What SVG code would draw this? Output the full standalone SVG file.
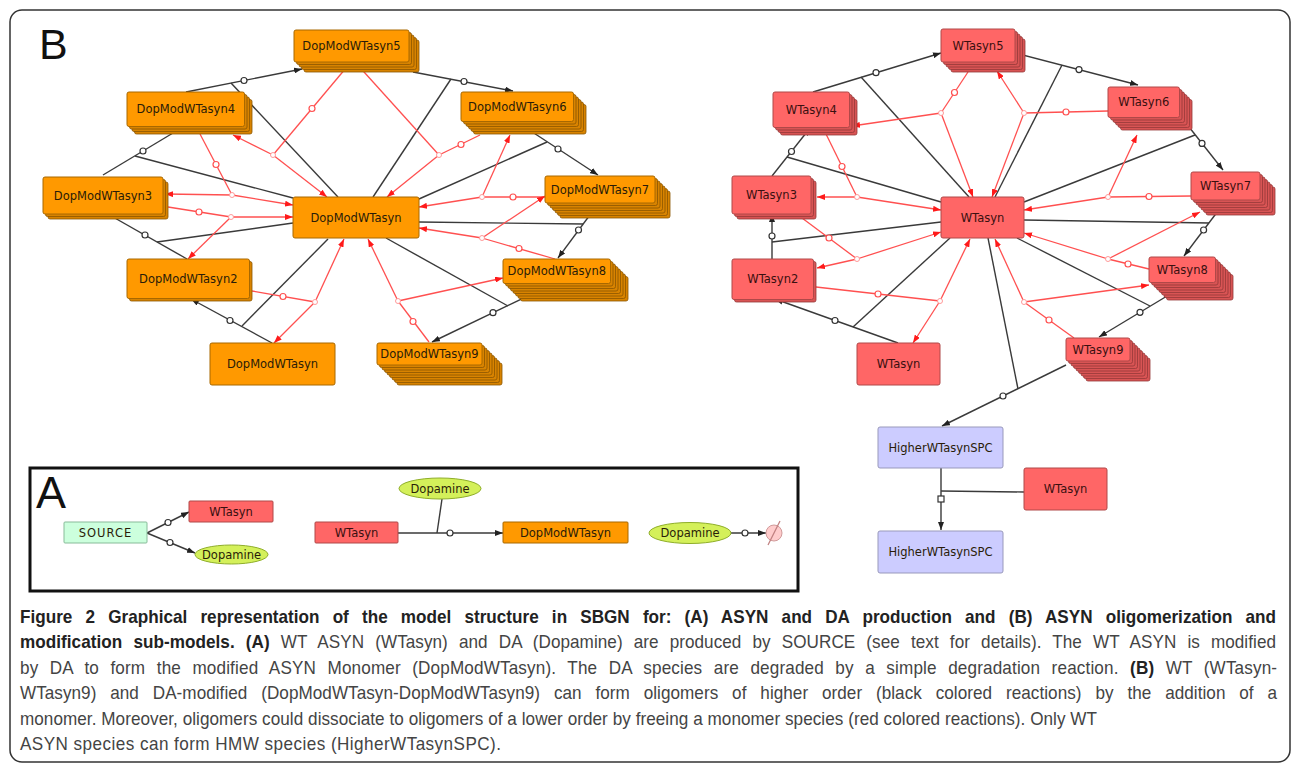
<svg xmlns="http://www.w3.org/2000/svg" width="1295" height="769" viewBox="0 0 1295 769">
<defs>
<marker id="ab" markerWidth="8" markerHeight="6" refX="8" refY="3" orient="auto" markerUnits="userSpaceOnUse"><path d="M0,0 L8,3 L0,6 z" fill="#222"/></marker>
<marker id="ar" markerWidth="8" markerHeight="6" refX="8" refY="3" orient="auto" markerUnits="userSpaceOnUse"><path d="M0,0 L8,3 L0,6 z" fill="#ff1a1a"/></marker>
</defs>
<style>
.frame{fill:none;stroke:#333;stroke-width:1.5}
.o{fill:#ff9900;stroke:#a86800;stroke-width:1}
.os{fill:#d88300;stroke:#8c5600;stroke-width:0.8}
.r{fill:#ff6666;stroke:#b04848;stroke-width:1}
.rs{fill:#d85454;stroke:#963838;stroke-width:0.8}
.h{fill:#ccccff;stroke:#9999bb;stroke-width:1}
.src{fill:#ccffdd;stroke:#88bb99;stroke-width:1}
.dop{fill:#d4f05a;stroke:#8fae2a;stroke-width:1}
.t{font-family:"DejaVu Sans",Verdana,sans-serif;font-size:11.5px;text-anchor:middle;fill:#2a1c08}
.tr{font-family:"DejaVu Sans",Verdana,sans-serif;font-size:11.5px;text-anchor:middle;fill:#3a1010}
.bl{stroke:#3a3a3a;stroke-width:1.4;fill:none}
.ba{stroke:#3a3a3a;stroke-width:1.4;fill:none;marker-end:url(#ab)}
.rl{stroke:#ff5050;stroke-width:1.3;fill:none}
.ra{stroke:#ff5050;stroke-width:1.3;fill:none;marker-end:url(#ar)}
.pb{fill:#fff;stroke:#333;stroke-width:1.2}
.pr{fill:#fff;stroke:#ff5050;stroke-width:1.2}
.jr{fill:#fff;stroke:#ff9a9a;stroke-width:1}
.big{font-family:"Liberation Sans",Arial,sans-serif;fill:#111}
.cap{font-family:"Liberation Sans",Arial,sans-serif;font-size:18px;fill:#444}
.capb{font-weight:bold;fill:#222}
</style>

<rect class="frame" x="10" y="10" width="1280" height="752" rx="12"/>
<text class="big" x="39" y="59" font-size="43">B</text>

<g id="connectors">
<!-- left black -->
<path class="ba" d="M272,343 L191,299"/><path class="bl" d="M328,239 L242,326"/><circle class="pb" cx="230" cy="320.5" r="3"/>
<path class="ba" d="M187,259 L106,213"/><path class="bl" d="M293,223 L157,242"/><circle class="pb" cx="145" cy="235" r="3"/>
<path class="ba" d="M103,175 L183,127"/><path class="bl" d="M293,198 L135,156"/><circle class="pb" cx="143" cy="151" r="3"/>
<path class="ba" d="M186,92 L302,69"/><path class="bl" d="M338,197 L231,83"/><circle class="pb" cx="244" cy="80.5" r="3"/>
<path class="ba" d="M413,72 L513,91"/><path class="bl" d="M373,197 L451,79"/><circle class="pb" cx="464" cy="81.5" r="3"/>
<path class="ba" d="M517,122 L598,175"/><path class="bl" d="M419,199 L547,142"/><circle class="pb" cx="558" cy="149" r="3"/>
<path class="ba" d="M598,204 L558,258"/><path class="bl" d="M419,222 L583,224"/><circle class="pb" cx="578.5" cy="230" r="3"/>
<path class="ba" d="M555,283 L432,342"/><path class="bl" d="M386,238 L508,306"/><circle class="pb" cx="493" cy="312.7" r="3"/>
<!-- left red -->
<path class="rl" d="M252,291 L315,302"/><path class="ra" d="M315,302 L274,343"/><path class="ra" d="M315,302 L344,239"/><circle class="pr" cx="283" cy="296.5" r="3"/><circle class="jr" cx="315" cy="302" r="2.5"/>
<path class="rl" d="M168,207 L231,217"/><path class="ra" d="M231,217 L293,217"/><path class="ra" d="M231,217 L188,259"/><circle class="pr" cx="199" cy="212" r="3"/><circle class="jr" cx="231" cy="217" r="2.5"/>
<path class="rl" d="M200,134 L232,195"/><path class="ra" d="M232,195 L165,194"/><path class="ra" d="M232,195 L293,205"/><circle class="pr" cx="216" cy="164.5" r="3"/><circle class="jr" cx="232" cy="195" r="2.5"/>
<path class="rl" d="M351,62 L273,155"/><path class="ra" d="M273,155 L233,135"/><path class="ra" d="M273,155 L327,197"/><circle class="pr" cx="312" cy="108.5" r="3"/><circle class="jr" cx="273" cy="155" r="2.5"/>
<path class="rl" d="M480,135 L439,155"/><path class="ra" d="M439,155 L355,62"/><path class="ra" d="M439,155 L387,197"/><circle class="pr" cx="461" cy="144.5" r="3"/><circle class="jr" cx="439" cy="155" r="2.5"/>
<path class="rl" d="M545,197 L482,197"/><path class="ra" d="M482,197 L510,135"/><path class="ra" d="M482,197 L419,207"/><circle class="pr" cx="513" cy="197" r="3"/><circle class="jr" cx="482" cy="197" r="2.5"/>
<path class="rl" d="M555,259 L482,238"/><path class="ra" d="M482,238 L545,196"/><path class="ra" d="M482,238 L419,228"/><circle class="pr" cx="519" cy="248.5" r="3"/><circle class="jr" cx="482" cy="238" r="2.5"/>
<path class="rl" d="M429,342 L398,301"/><path class="ra" d="M398,301 L503,278"/><path class="ra" d="M398,301 L368,239"/><circle class="pr" cx="413" cy="321.5" r="3"/><circle class="jr" cx="398" cy="301" r="2.5"/>
<!-- right black -->
<path class="ba" d="M898,343 L775,299"/><path class="bl" d="M950,238 L853,327"/><circle class="pb" cx="835" cy="320.5" r="3"/>
<path class="ba" d="M772,259 L772,214"/><path class="bl" d="M941,222 L772,242"/><circle class="pb" cx="772" cy="236" r="3"/>
<path class="ba" d="M772,176 L810,128"/><path class="bl" d="M941,202 L787,157"/><circle class="pb" cx="791.5" cy="151.5" r="3"/>
<path class="ba" d="M813,92 L941,53"/><path class="bl" d="M969,197 L861,77"/><circle class="pb" cx="876" cy="72.7" r="3"/>
<path class="ba" d="M1015,53 L1138,85"/><path class="bl" d="M995,197 L1062,65"/><circle class="pb" cx="1079" cy="69.6" r="3"/>
<path class="ba" d="M1178,113 L1223,170"/><path class="bl" d="M1024,202 L1195,135"/><circle class="pb" cx="1202" cy="143.4" r="3"/>
<path class="ba" d="M1224,203 L1184,256"/><path class="bl" d="M1024,220 L1209,223"/><circle class="pb" cx="1203.6" cy="230" r="3"/>
<path class="ba" d="M1182,287 L1099,337"/><path class="bl" d="M1017,238 L1150,306"/><circle class="pb" cx="1140" cy="312.3" r="3"/>
<path class="ba" d="M1066,365 L942,426"/><path class="bl" d="M988,238 L1018,389"/><circle class="pb" cx="1003" cy="396" r="3"/>
<path class="ba" d="M941,468 L941,530"/><path class="bl" d="M1024,492 L941,491"/><rect class="pb" x="938" y="496" width="6" height="6"/>
<!-- right red -->
<path class="rl" d="M816,287 L940,301"/><path class="ra" d="M940,301 L913,343"/><path class="ra" d="M940,301 L970,239"/><circle class="pr" cx="878" cy="294" r="3"/><circle class="jr" cx="940" cy="301" r="2.5"/>
<path class="rl" d="M802,218 L857,259"/><path class="ra" d="M857,259 L817,268"/><path class="ra" d="M857,259 L941,232"/><circle class="pr" cx="829" cy="238" r="3"/><circle class="jr" cx="857" cy="259" r="2.5"/>
<path class="rl" d="M826,134 L857,197"/><path class="ra" d="M857,197 L817,197"/><path class="ra" d="M857,197 L941,210"/><circle class="pr" cx="842" cy="166.5" r="3"/><circle class="jr" cx="857" cy="197" r="2.5"/>
<path class="rl" d="M968,72 L941,113"/><path class="ra" d="M941,113 L852,126"/><path class="ra" d="M941,113 L973,197"/><circle class="pr" cx="954.5" cy="92.5" r="3"/><circle class="jr" cx="941" cy="113" r="2.5"/>
<path class="rl" d="M1108,111 L1024,113"/><path class="ra" d="M1024,113 L997,71"/><path class="ra" d="M1024,113 L992,197"/><circle class="pr" cx="1066" cy="112" r="3"/><circle class="jr" cx="1024" cy="113" r="2.5"/>
<path class="rl" d="M1191,196 L1108,197"/><path class="ra" d="M1108,197 L1137,135"/><path class="ra" d="M1108,197 L1024,210"/><circle class="pr" cx="1149" cy="196.5" r="3"/><circle class="jr" cx="1108" cy="197" r="2.5"/>
<path class="rl" d="M1149,269 L1108,259"/><path class="ra" d="M1108,259 L1200,212"/><path class="ra" d="M1108,259 L1024,233"/><circle class="pr" cx="1128" cy="264" r="3"/><circle class="jr" cx="1108" cy="259" r="2.5"/>
<path class="rl" d="M1074,338 L1024,302"/><path class="ra" d="M1024,302 L1149,285"/><path class="ra" d="M1024,302 L995,239"/><circle class="pr" cx="1049" cy="320" r="3"/><circle class="jr" cx="1024" cy="302" r="2.5"/>
<!-- panel A -->
<path class="ba" d="M147,533 L189,512"/><circle class="pb" cx="168" cy="522.5" r="3"/>
<path class="ba" d="M147,533 L195,553"/><circle class="pb" cx="170" cy="542.5" r="3"/>
<path class="ba" d="M398,533 L503,533"/><path class="bl" d="M442,499 L437,533"/><circle class="pb" cx="450" cy="533" r="3"/>
<path class="ba" d="M731,533 L766,533"/><circle class="pb" cx="745" cy="533" r="3"/>
</g>

<!-- left nodes -->
<g id="DopModWTasyn5"><rect class="os" x="304" y="40" width="115" height="32" rx="2"/><rect class="os" x="301.5" y="37.5" width="115" height="32" rx="2"/><rect class="os" x="299" y="35" width="115" height="32" rx="2"/><rect class="os" x="296.5" y="32.5" width="115" height="32" rx="2"/><rect class="o" x="294" y="30" width="115" height="32" rx="2"/><text class="t" x="351.5" y="50">DopModWTasyn5</text></g>
<g id="DopModWTasyn4"><rect class="os" x="134.5" y="99.5" width="117.5" height="34.5" rx="2"/><rect class="os" x="132" y="97" width="117.5" height="34.5" rx="2"/><rect class="os" x="129.5" y="94.5" width="117.5" height="34.5" rx="2"/><rect class="o" x="127" y="92" width="117.5" height="34.5" rx="2"/><text class="t" x="185.8" y="113.3">DopModWTasyn4</text></g>
<g id="DopModWTasyn6"><rect class="os" x="473.5" y="104.5" width="112.5" height="29.5" rx="2"/><rect class="os" x="471" y="102" width="112.5" height="29.5" rx="2"/><rect class="os" x="468.5" y="99.5" width="112.5" height="29.5" rx="2"/><rect class="os" x="466" y="97" width="112.5" height="29.5" rx="2"/><rect class="os" x="463.5" y="94.5" width="112.5" height="29.5" rx="2"/><rect class="o" x="461" y="92" width="112.5" height="29.5" rx="2"/><text class="t" x="517.3" y="110.8">DopModWTasyn6</text></g>
<g id="DopModWTasyn3"><rect class="os" x="48" y="182" width="120" height="37" rx="2"/><rect class="os" x="45.5" y="179.5" width="120" height="37" rx="2"/><rect class="o" x="43" y="177" width="120" height="37" rx="2"/><text class="t" x="103" y="199.5">DopModWTasyn3</text></g>
<g id="DopModWTasyn_center"><rect class="o" x="293" y="197" width="126" height="41" rx="2"/><text class="t" x="356" y="221.5">DopModWTasyn</text></g>
<g id="DopModWTasyn7"><rect class="os" x="560" y="191" width="110" height="27" rx="2"/><rect class="os" x="557.5" y="188.5" width="110" height="27" rx="2"/><rect class="os" x="555" y="186" width="110" height="27" rx="2"/><rect class="os" x="552.5" y="183.5" width="110" height="27" rx="2"/><rect class="os" x="550" y="181" width="110" height="27" rx="2"/><rect class="os" x="547.5" y="178.5" width="110" height="27" rx="2"/><rect class="o" x="545" y="176" width="110" height="27" rx="2"/><text class="t" x="600" y="193.5">DopModWTasyn7</text></g>
<g id="DopModWTasyn2"><rect class="os" x="129.5" y="261.5" width="122.5" height="39.5" rx="2"/><rect class="o" x="127" y="259" width="122.5" height="39.5" rx="2"/><text class="t" x="188.3" y="282.8">DopModWTasyn2</text></g>
<g id="DopModWTasyn8"><rect class="os" x="520.5" y="276.5" width="107.5" height="24.5" rx="2"/><rect class="os" x="518" y="274" width="107.5" height="24.5" rx="2"/><rect class="os" x="515.5" y="271.5" width="107.5" height="24.5" rx="2"/><rect class="os" x="513" y="269" width="107.5" height="24.5" rx="2"/><rect class="os" x="510.5" y="266.5" width="107.5" height="24.5" rx="2"/><rect class="os" x="508" y="264" width="107.5" height="24.5" rx="2"/><rect class="os" x="505.5" y="261.5" width="107.5" height="24.5" rx="2"/><rect class="o" x="503" y="259" width="107.5" height="24.5" rx="2"/><text class="t" x="556.8" y="275.3">DopModWTasyn8</text></g>
<g id="DopModWTasyn_bottom"><rect class="o" x="210" y="343" width="125" height="42" rx="2"/><text class="t" x="272.5" y="368">DopModWTasyn</text></g>
<g id="DopModWTasyn9"><rect class="os" x="397" y="363" width="105" height="22" rx="2"/><rect class="os" x="394.5" y="360.5" width="105" height="22" rx="2"/><rect class="os" x="392" y="358" width="105" height="22" rx="2"/><rect class="os" x="389.5" y="355.5" width="105" height="22" rx="2"/><rect class="os" x="387" y="353" width="105" height="22" rx="2"/><rect class="os" x="384.5" y="350.5" width="105" height="22" rx="2"/><rect class="os" x="382" y="348" width="105" height="22" rx="2"/><rect class="os" x="379.5" y="345.5" width="105" height="22" rx="2"/><rect class="o" x="377" y="343" width="105" height="22" rx="2"/><text class="t" x="429.5" y="358">DopModWTasyn9</text></g>

<!-- right nodes -->
<g id="WTasyn5"><rect class="rs" x="951" y="39" width="74" height="33" rx="2"/><rect class="rs" x="948.5" y="36.5" width="74" height="33" rx="2"/><rect class="rs" x="946" y="34" width="74" height="33" rx="2"/><rect class="rs" x="943.5" y="31.5" width="74" height="33" rx="2"/><rect class="r" x="941" y="29" width="74" height="33" rx="2"/><text class="tr" x="978" y="49.5">WTasyn5</text></g>
<g id="WTasyn4"><rect class="rs" x="780.5" y="99.5" width="76.5" height="35.5" rx="2"/><rect class="rs" x="778" y="97" width="76.5" height="35.5" rx="2"/><rect class="rs" x="775.5" y="94.5" width="76.5" height="35.5" rx="2"/><rect class="r" x="773" y="92" width="76.5" height="35.5" rx="2"/><text class="tr" x="811.3" y="113.8">WTasyn4</text></g>
<g id="WTasyn6"><rect class="rs" x="1120.5" y="99.5" width="71.5" height="30.5" rx="2"/><rect class="rs" x="1118" y="97" width="71.5" height="30.5" rx="2"/><rect class="rs" x="1115.5" y="94.5" width="71.5" height="30.5" rx="2"/><rect class="rs" x="1113" y="92" width="71.5" height="30.5" rx="2"/><rect class="rs" x="1110.5" y="89.5" width="71.5" height="30.5" rx="2"/><rect class="r" x="1108" y="87" width="71.5" height="30.5" rx="2"/><text class="tr" x="1143.8" y="106.3">WTasyn6</text></g>
<g id="WTasyn3"><rect class="rs" x="737" y="181" width="79" height="38" rx="2"/><rect class="rs" x="734.5" y="178.5" width="79" height="38" rx="2"/><rect class="r" x="732" y="176" width="79" height="38" rx="2"/><text class="tr" x="771.5" y="199">WTasyn3</text></g>
<g id="WTasyn_center"><rect class="r" x="941" y="197" width="83" height="41" rx="2"/><text class="tr" x="982.5" y="221.5">WTasyn</text></g>
<g id="WTasyn7"><rect class="rs" x="1206" y="187" width="69" height="28" rx="2"/><rect class="rs" x="1203.5" y="184.5" width="69" height="28" rx="2"/><rect class="rs" x="1201" y="182" width="69" height="28" rx="2"/><rect class="rs" x="1198.5" y="179.5" width="69" height="28" rx="2"/><rect class="rs" x="1196" y="177" width="69" height="28" rx="2"/><rect class="rs" x="1193.5" y="174.5" width="69" height="28" rx="2"/><rect class="r" x="1191" y="172" width="69" height="28" rx="2"/><text class="tr" x="1225.5" y="190">WTasyn7</text></g>
<g id="WTasyn2"><rect class="rs" x="734.5" y="261.5" width="81.5" height="40.5" rx="2"/><rect class="r" x="732" y="259" width="81.5" height="40.5" rx="2"/><text class="tr" x="772.8" y="283.3">WTasyn2</text></g>
<g id="WTasyn8"><rect class="rs" x="1166.5" y="274.5" width="66.5" height="25.5" rx="2"/><rect class="rs" x="1164" y="272" width="66.5" height="25.5" rx="2"/><rect class="rs" x="1161.5" y="269.5" width="66.5" height="25.5" rx="2"/><rect class="rs" x="1159" y="267" width="66.5" height="25.5" rx="2"/><rect class="rs" x="1156.5" y="264.5" width="66.5" height="25.5" rx="2"/><rect class="rs" x="1154" y="262" width="66.5" height="25.5" rx="2"/><rect class="rs" x="1151.5" y="259.5" width="66.5" height="25.5" rx="2"/><rect class="r" x="1149" y="257" width="66.5" height="25.5" rx="2"/><text class="tr" x="1182.3" y="273.8">WTasyn8</text></g>
<g id="WTasyn_bottom"><rect class="r" x="857" y="343" width="83" height="42" rx="2"/><text class="tr" x="898.5" y="368">WTasyn</text></g>
<g id="WTasyn9"><rect class="rs" x="1086" y="358" width="64" height="23" rx="2"/><rect class="rs" x="1083.5" y="355.5" width="64" height="23" rx="2"/><rect class="rs" x="1081" y="353" width="64" height="23" rx="2"/><rect class="rs" x="1078.5" y="350.5" width="64" height="23" rx="2"/><rect class="rs" x="1076" y="348" width="64" height="23" rx="2"/><rect class="rs" x="1073.5" y="345.5" width="64" height="23" rx="2"/><rect class="rs" x="1071" y="343" width="64" height="23" rx="2"/><rect class="rs" x="1068.5" y="340.5" width="64" height="23" rx="2"/><rect class="r" x="1066" y="338" width="64" height="23" rx="2"/><text class="tr" x="1098" y="353.5">WTasyn9</text></g>
<g id="HigherWTasynSPC_1"><rect class="h" x="878" y="427" width="125" height="41" rx="2"/><text class="t" x="940.5" y="451.5">HigherWTasynSPC</text></g>
<g id="WTasyn_hmw"><rect class="r" x="1024" y="468" width="83" height="42" rx="2"/><text class="tr" x="1065.5" y="493">WTasyn</text></g>
<g id="HigherWTasynSPC_2"><rect class="h" x="878" y="531" width="125" height="42" rx="2"/><text class="t" x="940.5" y="556">HigherWTasynSPC</text></g>

<!-- panel A -->
<g id="panelA">
<rect x="30" y="468" width="768" height="123" fill="none" stroke="#111" stroke-width="3"/>
<text class="big" x="36" y="508" font-size="45">A</text>
</g>
<g id="A_SOURCE"><rect class="src" x="64" y="522" width="83" height="21" rx="1"/><text class="t" x="105.5" y="537" fill="#555" letter-spacing="1">SOURCE</text></g>
<g id="A_WTasyn1"><rect class="r" x="189" y="501" width="84" height="21" rx="1"/><text class="tr" x="231" y="515.5">WTasyn</text></g>
<g id="A_Dopamine1"><ellipse class="dop" cx="231.5" cy="554.5" rx="36.5" ry="9.5"/><text class="t" x="231.5" y="558.5">Dopamine</text></g>
<g id="A_WTasyn2"><rect class="r" x="315" y="522" width="83" height="21" rx="1"/><text class="tr" x="356.5" y="537">WTasyn</text></g>
<g id="A_Dopamine2"><ellipse class="dop" cx="440" cy="488.5" rx="41" ry="10.5"/><text class="t" x="440" y="492.5">Dopamine</text></g>
<g id="A_DopModWTasyn"><rect class="o" x="503" y="522" width="125" height="21" rx="1"/><text class="t" x="565.5" y="537">DopModWTasyn</text></g>
<g id="A_Dopamine3"><ellipse class="dop" cx="690" cy="533" rx="41" ry="10.5"/><text class="t" x="690" y="537">Dopamine</text></g>
<g id="A_sink"><circle cx="774" cy="533" r="8" fill="#ffcccc" stroke="#d09a9a" stroke-width="1"/><path d="M768,545 L780,521" stroke="#c08080" stroke-width="1.2"/></g>

<!-- caption -->
<g id="caption" class="cap" transform="translate(20,0) scale(0.951,1)">
<text x="0" y="623" word-spacing="8.8" textLength="1320.7" lengthAdjust="spacing" class="capb">Figure 2 Graphical representation of the model structure in SBGN for: (A) ASYN and DA production and (B) ASYN oligomerization and</text>
<text x="0" y="648.5" word-spacing="6.6" textLength="1320.7" lengthAdjust="spacing"><tspan class="capb">modification sub-models. (A)</tspan> WT ASYN (WTasyn) and DA (Dopamine) are produced by SOURCE (see text for details). The WT ASYN is modified</text>
<text x="0" y="674" word-spacing="6.9" textLength="1321.8" lengthAdjust="spacing">by DA to form the modified ASYN Monomer (DopModWTasyn). The DA species are degraded by a simple degradation reaction. <tspan class="capb">(B)</tspan> WT (WTasyn-</text>
<text x="0" y="699.5" word-spacing="9.5" textLength="1321.8" lengthAdjust="spacing">WTasyn9) and DA-modified (DopModWTasyn-DopModWTasyn9) can form oligomers of higher order (black colored reactions) by the addition of a</text>
<text x="0" y="725" textLength="1132.5" lengthAdjust="spacing">monomer. Moreover, oligomers could dissociate to oligomers of a lower order by freeing a monomer species (red colored reactions). Only WT</text>
<text x="0" y="750.5" textLength="505.8" lengthAdjust="spacing">ASYN species can form HMW species (HigherWTasynSPC).</text>
</g>
</svg>
